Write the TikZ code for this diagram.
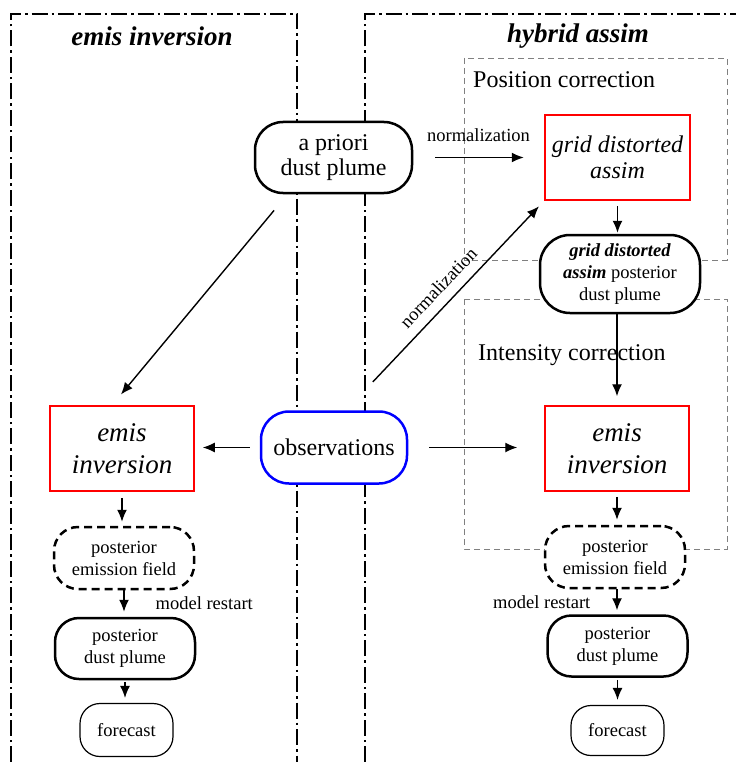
\documentclass[tikz,border=0pt]{standalone}
\usepackage{fontspec}
\setmainfont{Liberation Serif}
\usetikzlibrary{arrows.meta,calc}

\newcommand{\szsmall}{\fontsize{18.5}{22}\selectfont}
\newcommand{\szmid}{\fontsize{24}{25.5}\selectfont}
\newcommand{\szbig}{\fontsize{27}{32}\selectfont}

\begin{document}
\begin{tikzpicture}[x=1pt,y=-1pt,
    plume node/.style={rectangle,rounded corners=#1,draw,line width=2.5pt,fill=white,align=center,inner sep=0pt},
    plume node/.default=26pt,
    algo node/.style={rectangle,draw=red,line width=1.5pt,fill=white,align=center,inner sep=0pt,
                      minimum width=144pt,minimum height=85pt,font=\szbig\itshape},
    field node/.style={plume node=24pt,dash pattern=on 8pt off 5pt,minimum width=140pt,minimum height=62pt,font=\szsmall},
    panel line/.style={line width=2pt,dash pattern=on 16pt off 4pt on 2.5pt off 4pt},
    corr box/.style={gray,line width=0.9pt,dash pattern=on 6pt off 4pt},
    flow/.style={line width=1.4pt,-{Latex[length=12pt,width=10pt]}},
    lbl/.style={font=\szsmall,inner sep=2pt}]
  \useasboundingbox (0,0) rectangle (736,762);

  % the two panels
  \draw[panel line] (11,762) -- (11,14) -- (297,14) -- (297,762);
  \draw[panel line] (365,762) -- (365,14) -- (736,14);
  \node[font=\szbig\bfseries\itshape] (titleL) at (152,36) {emis inversion};
  \node[font=\szbig\bfseries\itshape] (titleR) at (578,36) {hybrid assim};

  % correction boxes
  \draw[corr box] (464,58) rectangle (727,260);
  \draw[corr box] (464,299) rectangle (727,549);
  \node[anchor=west,font=\szmid,inner sep=0pt] (poslbl) at (473,80) {Position correction};
  \node[anchor=west,font=\szmid,inner sep=0pt] (intlbl) at (478,355) {Intensity correction};

  % nodes
  \node[plume node=28pt, minimum width=157pt, minimum height=71pt, font=\szmid] (prior) at (333.5,157.5) {a priori\\dust plume};
  \node[algo node, line width=2.5pt, minimum width=145pt, font=\szmid\itshape] (gda) at (617.5,157.5) {grid distorted\\assim};
  \node[plume node=30pt, minimum width=160pt, minimum height=78pt, font=\szsmall] (gdpost) at (620,274)
       {\textbf{\textit{grid distorted}}\\\textbf{\textit{assim}} posterior\\dust plume};
  \node[plume node=28pt, draw=blue, minimum width=146pt, minimum height=72pt, font=\szmid] (obs) at (334,447.5) {observations};

  \node[algo node] (invL) at (122,448.5) {emis\\inversion};
  \node[field node] (emisL) at (124,558) {posterior\\emission field};
  \node[plume node=24pt, minimum width=140pt, minimum height=61pt, font=\szsmall] (postL) at (125,648.5) {posterior\\dust plume};
  \node[plume node=20pt, line width=1.2pt, minimum width=93pt, minimum height=53pt, font=\szsmall] (fcL) at (126.5,730) {forecast};

  \node[algo node] (invR) at (617,448.5) {emis\\inversion};
  \node[field node] (emisR) at (615,557) {posterior\\emission field};
  \node[plume node=24pt, minimum width=140pt, minimum height=61pt, font=\szsmall] (postR) at (617.5,646) {posterior\\dust plume};
  \node[plume node=20pt, line width=1.2pt, minimum width=93pt, minimum height=50pt, font=\szsmall] (fcR) at (617.5,730.5) {forecast};

  % connectors
  \draw[flow, shorten <=22pt, shorten >=20pt] (prior.east) -- (gda.west)
       node[lbl, midway, above=13pt] {normalization};
  \draw[flow, shorten <=39pt, shorten >=7pt] ($(obs.north)+(12,0)$) -- (gda.south west)
       node[lbl, pos=0.53, sloped, above=8pt] {normalization};
  \draw[flow, shorten <=21pt, shorten >=14pt] ($(prior.south)+(-46,0)$) -- ($(invL.north)+(-10,0)$);
  \draw[flow, shorten <=10pt, shorten >=8pt] (obs) -- (obs -| invL.east);
  \draw[flow, shorten <=21pt, shorten >=27pt] (obs) -- (obs -| invR.west);
  \draw[flow, shorten <=5pt, shorten >=1pt] (gda.south) -- (gda.south |- gdpost.north);
  \draw[flow, shorten >=9pt] (invR.north |- gdpost.south) -- (invR.north);

  \draw[flow, shorten <=6pt, shorten >=4pt] (invL.south) -- (invL.south |- emisL.north);
  \draw[flow, shorten >=5pt] (emisL.south) -- (emisL.south |- postL.north)
       node[lbl, midway, right=29pt] {model restart};
  \draw[flow, shorten <=2pt, shorten >=5pt] (postL.south) -- (postL.south |- fcL.north);

  \draw[flow, shorten <=5pt, shorten >=5pt] (invR.south) -- (invR.south |- emisR.north);
  \draw[flow, shorten >=4pt] (invR.south |- emisR.south) -- (invR.south |- postR.north)
       node[lbl, midway, left=24pt] {model restart};
  \draw[flow, shorten <=2pt, shorten >=5pt] (postR.south) -- (postR.south |- fcR.north);
\end{tikzpicture}
\end{document}
